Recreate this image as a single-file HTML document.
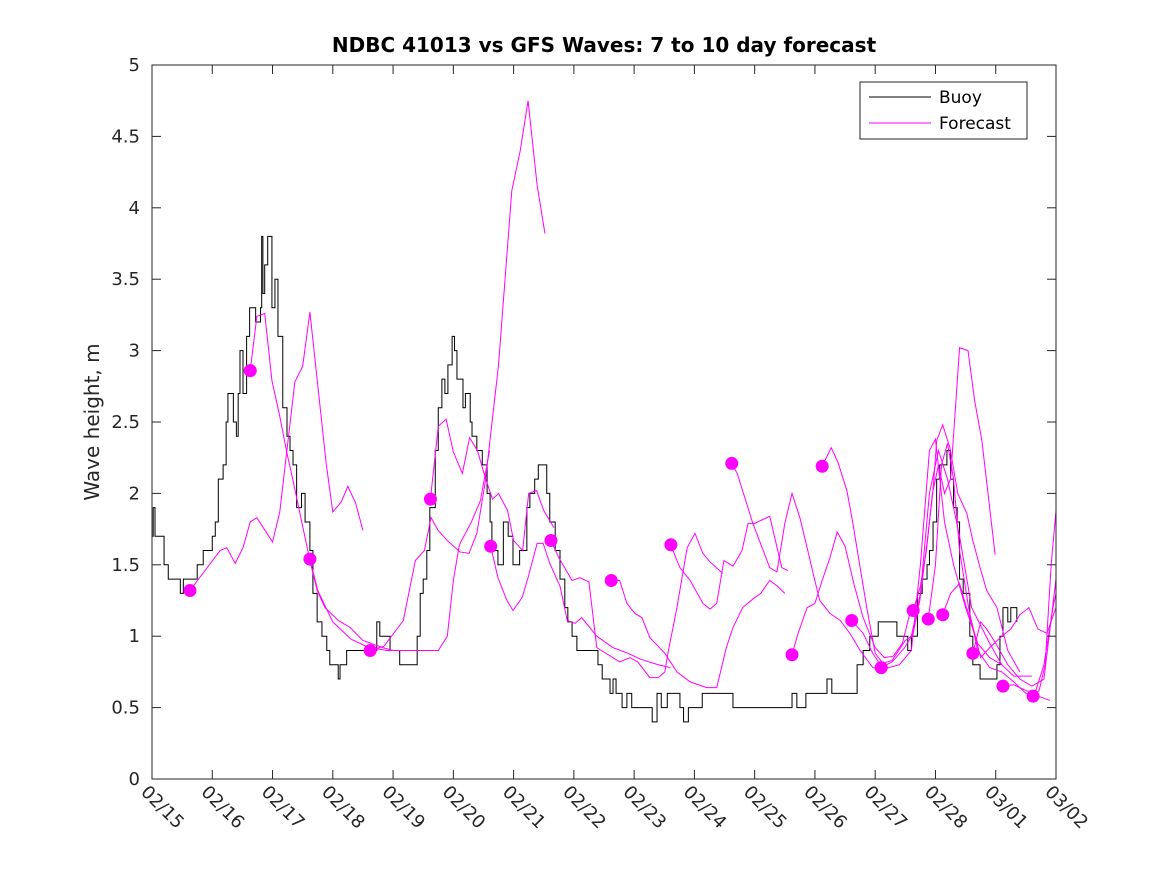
<!DOCTYPE html>
<html><head><meta charset="utf-8"><style>
body{margin:0;background:#fff}
svg{display:block;font-family:"DejaVu Sans","Liberation Sans",sans-serif}
</style></head><body>
<svg id="chart" width="1167" height="875" viewBox="0 0 1167 875">
<rect width="1167" height="875" fill="#fff"/>
<text x="604" y="52" text-anchor="middle" font-size="20" font-weight="bold" fill="#000">NDBC 41013 vs GFS Waves: 7 to 10 day forecast</text>
<text transform="translate(99,422) rotate(-90)" text-anchor="middle" font-size="20" fill="#262626">Wave height, m</text>
<defs><clipPath id="pc"><rect x="152" y="65" width="904" height="714"/></clipPath></defs>
<g id="marks" clip-path="url(#pc)"></g>
<rect x="152" y="65" width="904" height="714" fill="none" stroke="#262626" stroke-width="1"/>
<g id="ticks"></g>
<g>
<rect x="860" y="82" width="167" height="57" fill="#fff" stroke="#262626"/>
<line x1="869" y1="97" x2="931" y2="97" stroke="#000"/>
<text x="939" y="103" font-size="17" fill="#000">Buoy</text>
<line x1="869" y1="123" x2="931" y2="123" stroke="#ff00ff"/>
<text x="939" y="129" font-size="17" fill="#000">Forecast</text>
</g>
</svg>
<script>
const xLabels=["02/15","02/16","02/17","02/18","02/19","02/20","02/21","02/22","02/23","02/24","02/25","02/26","02/27","02/28","03/01","03/02"];
const yTicks=[0,0.5,1,1.5,2,2.5,3,3.5,4,4.5,5];
const buoyDaysA=[0,0.02,0.05,0.2,0.27,0.3,0.47,0.52,0.75,0.85,1.0,1.05,1.1,1.18,1.23,1.26,1.35,1.4,1.43,1.46,1.51,1.57,1.62,1.72,1.8,1.82,1.84,1.87,1.92,1.99,2.04,2.09,2.17,2.24,2.29,2.34,2.4,2.48,2.54,2.62,2.67,2.74,2.82,2.9,2.95,3.09,3.12,3.23,3.4,3.73,3.78,3.95,4.11,4.4];
const buoyHeightsA=[1.7,1.9,1.7,1.5,1.4,1.4,1.3,1.4,1.5,1.6,1.7,1.8,2.1,2.2,2.5,2.7,2.5,2.4,2.7,3.0,2.7,3.1,3.3,3.2,3.3,3.8,3.4,3.6,3.8,3.3,3.5,3.1,2.6,2.4,2.3,2.2,1.9,2.0,1.8,1.6,1.3,1.1,1.0,0.9,0.8,0.7,0.8,0.9,0.9,1.1,1.0,0.9,0.8,1.0];
const buoyDaysB=[4.45,4.5,4.56,4.61,4.7,4.75,4.81,4.86,4.91,4.98,5.02,5.06,5.13,5.16,5.2,5.28,5.31,5.39,5.48,5.56,5.61,5.64,5.74,5.83,5.91,5.99,6.1,6.22,6.27,6.35,6.41,6.5,6.55,6.6,6.69,6.77,6.85,6.9,6.97,7.05,7.32,7.4,7.47,7.6,7.65,7.7,7.8,7.88,7.96,8.3,8.38,8.45,8.55,8.76,8.82,8.9];
const buoyHeightsB=[1.3,1.4,1.6,1.9,2.3,2.6,2.8,2.7,2.9,3.1,3.0,2.8,2.8,2.6,2.7,2.5,2.4,2.3,2.2,2.0,1.8,1.6,1.5,1.8,1.7,1.5,1.6,1.9,2.0,2.1,2.2,2.2,2.0,1.8,1.6,1.4,1.2,1.1,1.0,0.9,0.9,0.8,0.7,0.6,0.7,0.6,0.5,0.6,0.5,0.4,0.6,0.5,0.6,0.5,0.4,0.5];
const buoyDaysC=[9.13,9.64,10.62,10.7,10.85,11.2,11.28,11.41,11.7,11.8,11.91,12.05,12.36,12.4,12.54,12.6,12.7,12.78,12.86,12.9,12.96,13.02,13.07,13.19,13.25,13.3,13.36,13.4,13.46,13.57,13.62,13.74,14.02,14.07,14.12,14.2,14.25,14.35];
const buoyHeightsC=[0.6,0.5,0.6,0.5,0.6,0.7,0.6,0.6,0.8,0.9,1.0,1.1,1.0,1.0,0.9,1.0,1.3,1.4,1.5,1.6,1.8,2.1,2.2,2.3,2.1,1.9,1.8,1.4,1.3,1.0,0.8,0.7,0.8,1.0,1.2,1.1,1.2,1.1];
const forecasts=[
[[0.63,1.32],[1.13,1.6],[1.24,1.62],[1.38,1.51],[1.51,1.62],[1.63,1.8],[1.74,1.83],[2.0,1.66],[2.12,1.87],[2.37,2.78],[2.5,2.89],[2.62,3.27],[2.89,2.21],[3.0,1.87],[3.14,1.94],[3.25,2.05],[3.38,1.93],[3.5,1.74]],
[[1.63,2.86],[1.74,3.24],[1.87,3.26],[1.99,2.79],[2.12,2.54],[2.24,2.28],[2.34,2.09],[2.62,1.53],[2.74,1.32],[2.87,1.2],[3.09,1.11],[3.29,1.06],[3.5,0.97],[3.83,0.92],[4.0,0.9],[4.6,0.9]],
[[2.62,1.54],[2.75,1.32],[3.0,1.1],[3.3,0.98],[3.6,0.92],[3.9,0.9],[4.3,0.9],[4.75,0.9],[4.9,1.0],[5.0,1.39],[5.1,1.64],[5.3,1.8],[5.45,1.95],[5.6,2.3]],
[[3.62,0.9],[3.85,0.93],[4.17,1.11],[4.37,1.53],[4.52,1.6],[4.63,1.83],[4.75,1.74],[4.9,1.67],[5.11,1.59],[5.26,1.58],[5.39,1.72],[5.53,2.08],[5.75,2.9],[5.97,4.12],[6.11,4.4],[6.24,4.75],[6.39,4.16],[6.52,3.82]],
[[4.62,1.96],[4.75,2.47],[4.88,2.52],[5.0,2.29],[5.15,2.14],[5.27,2.39],[5.4,2.3],[5.53,2.11],[5.65,1.96],[5.75,2.0],[5.9,1.88],[6.0,1.67],[6.15,1.6],[6.25,2.0],[6.38,2.02],[6.5,1.88],[6.67,1.76]],
[[5.62,1.63],[5.74,1.41],[5.89,1.25],[5.99,1.18],[6.14,1.27],[6.24,1.41],[6.39,1.65],[6.49,1.65],[6.6,1.51],[6.77,1.35],[6.89,1.11],[7.02,1.09],[7.13,1.13],[7.38,1.0],[7.65,0.92],[7.9,0.88],[8.1,0.84],[8.4,0.8],[8.6,0.78]],
[[6.62,1.67],[6.75,1.55],[6.97,1.39],[7.1,1.41],[7.25,1.38],[7.38,0.92],[7.76,0.82],[7.93,0.85],[8.06,0.82],[8.26,0.71],[8.4,0.71],[8.51,0.75],[8.56,0.88],[8.71,1.2],[8.88,1.62],[9.01,1.72],[9.14,1.58],[9.26,1.52],[9.47,1.44]],
[[7.62,1.39],[7.76,1.39],[7.88,1.23],[8.01,1.16],[8.13,1.13],[8.26,0.99],[8.51,0.88],[8.71,0.75],[8.93,0.68],[9.2,0.64],[9.37,0.64],[9.53,0.92],[9.64,1.06],[9.8,1.2],[9.97,1.26],[10.1,1.3],[10.25,1.39],[10.38,1.35],[10.5,1.3]],
[[8.61,1.64],[8.71,1.53],[8.76,1.48],[8.93,1.39],[9.14,1.23],[9.26,1.19],[9.37,1.23],[9.49,1.53],[9.64,1.49],[9.79,1.6],[9.89,1.79],[10.0,1.79],[10.25,1.84],[10.45,1.48],[10.55,1.46]],
[[9.62,2.21],[9.71,2.14],[9.97,1.79],[10.25,1.48],[10.37,1.45],[10.5,1.79],[10.62,2.0],[10.75,1.83],[10.87,1.62],[10.97,1.44],[11.08,1.25],[11.25,1.16],[11.42,1.11],[11.58,1.02],[11.75,0.9],[11.96,0.78],[12.16,0.76]],
[[10.62,0.87],[10.72,1.02],[10.87,1.2],[11.0,1.23],[11.12,1.39],[11.25,1.55],[11.37,1.73],[11.5,1.63],[11.65,1.36],[11.8,1.13],[12.0,0.92],[12.15,0.85],[12.3,0.86],[12.45,0.95],[12.6,1.2]],
[[11.12,2.19],[11.27,2.32],[11.38,2.22],[11.53,2.02],[11.63,1.79],[11.75,1.48],[11.86,1.2],[12.0,0.88],[12.13,0.81],[12.28,0.83],[12.5,0.97],[12.6,1.0],[12.75,1.3],[12.9,2.0],[13.05,2.3],[13.2,2.1],[13.4,1.7],[13.6,1.2],[13.9,0.95],[14.1,0.8]],
[[11.61,1.11],[11.8,1.02],[11.96,0.88],[12.13,0.77],[12.4,0.8],[12.6,0.9],[12.75,1.5],[12.9,2.3],[13.0,2.38],[13.15,1.8],[13.3,1.5],[13.5,1.2],[13.7,0.95],[13.9,0.85],[14.1,0.8],[14.3,0.72],[14.6,0.72]],
[[12.1,0.78],[12.28,0.82],[12.49,0.92],[12.63,1.02],[12.74,1.25],[12.87,1.69],[12.96,2.02],[13.02,2.37],[13.12,2.48],[13.24,2.32],[13.37,2.0],[13.52,1.86],[13.62,1.67],[13.74,1.48],[13.85,1.32],[14.02,1.2],[14.2,0.9],[14.4,0.75]],
[[12.63,1.18],[12.75,1.35],[12.85,1.6],[12.95,2.0],[13.05,2.2],[13.15,2.0],[13.25,2.1],[13.4,3.02],[13.54,3.0],[13.65,2.65],[13.77,2.37],[13.99,1.57]],
[[12.88,1.12],[13.0,1.5],[13.1,2.2],[13.2,2.35],[13.3,2.1],[13.4,1.6],[13.55,1.2],[13.7,0.9],[13.9,0.78],[14.1,0.75],[14.3,0.68],[14.5,0.6],[14.7,0.58],[14.9,0.55]],
[[13.12,1.15],[13.25,1.3],[13.4,1.37],[13.5,1.22],[13.6,1.1],[13.75,0.85],[13.9,0.92],[14.1,1.0],[14.25,1.05],[14.4,1.15],[14.55,1.2],[14.7,1.05],[14.85,1.02],[15.0,1.2]],
[[13.62,0.88],[13.75,1.1],[13.85,1.05],[14.0,0.95],[14.2,0.8],[14.4,0.7],[14.6,0.65],[14.8,0.7],[15.0,1.4]],
[[14.12,0.65],[14.3,0.66],[14.5,0.62],[14.65,0.6],[14.8,0.8],[14.95,1.2],[15.05,1.4]],
[[14.62,0.58],[14.72,0.62],[14.82,0.8],[14.92,1.5],[15.0,1.88]]
];
const buoyDays=buoyDaysA.concat(buoyDaysB,buoyDaysC);
const buoyHeights=buoyHeightsA.concat(buoyHeightsB,buoyHeightsC);
const NS="http://www.w3.org/2000/svg";
const X0=152,X1=1056,Y0=779,Y1=65,DAYS=15,HMAX=5;
function xs(d){return X0+(X1-X0)*d/DAYS;}
function ys(h){return Y0-(Y0-Y1)*h/HMAX;}
function mk(tag,attrs,parent){const e=document.createElementNS(NS,tag);for(const k in attrs)e.setAttribute(k,attrs[k]);parent.appendChild(e);return e;}
const ticks=document.getElementById('ticks'),marks=document.getElementById('marks');
xLabels.forEach((lab,i)=>{
  const x=xs(i);
  const t1=mk('line',{x1:x,y1:Y0,x2:x,y2:Y0-9,stroke:'#262626'},ticks);
  
  
  const t2=mk('line',{x1:x,y1:Y1,x2:x,y2:Y1+9,stroke:'#262626'},ticks);
  
  
  const tx=mk('text',{transform:`translate(${x-12},${Y0+14}) rotate(45)`,'font-size':18,fill:'#262626'},ticks);
  tx.textContent=lab;
  
  
});
yTicks.forEach(v=>{
  const y=ys(v);
  const t1=mk('line',{x1:X0,y1:y,x2:X0+9,y2:y,stroke:'#262626'},ticks);
  
  
  const t2=mk('line',{x1:X1,y1:y,x2:X1-9,y2:y,stroke:'#262626'},ticks);
  
  
  const tx=mk('text',{x:X0-12,y:y+6,'text-anchor':'end','font-size':18,fill:'#262626'},ticks);
  tx.textContent=String(v);
  
  
});
let bp=[];
for(let i=0;i<buoyDays.length;i++){
  if(i>0)bp.push(xs(buoyDays[i])+','+ys(buoyHeights[i-1]));
  bp.push(xs(buoyDays[i])+','+ys(buoyHeights[i]));
}
const bl=mk('polyline',{points:bp.join(' '),fill:'none',stroke:'#000','stroke-width':1},marks);


forecasts.forEach((s,i)=>{
  const pl=mk('polyline',{points:s.map(p=>xs(p[0])+','+ys(p[1])).join(' '),fill:'none',stroke:'#ff00ff','stroke-width':1},marks);
  
  
});
forecasts.forEach((s,i)=>{
  const c=mk('circle',{cx:xs(s[0][0]),cy:ys(s[0][1]),r:6.5,fill:'#ff00ff'},marks);
  
  
});
</script>
</body></html>
